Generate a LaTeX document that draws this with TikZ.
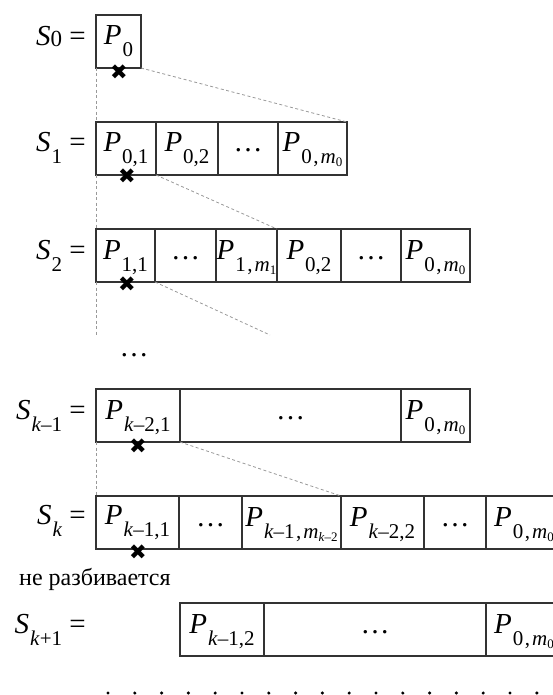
\documentclass[tikz,border=0pt]{standalone}
\usepackage{fontspec}
\setmainfont{Liberation Serif}
\newfontfamily\symfont{DejaVu Sans}

\newcommand{\subfont}{\fontsize{21}{21}\selectfont}
\newcommand{\Pblk}[1]{\textit{P}\kern1pt\raisebox{-12pt}{\subfont #1}}
\newcommand{\Slbl}[1]{\textit{S}\kern1pt\raisebox{-12pt}{\subfont #1}\ =}
\newcommand{\mz}[1]{\textit{m}\raisebox{-3pt}{\fontsize{13}{13}\selectfont #1}}
\newcommand{\cm}{\kern1.5pt,\kern2pt}

\begin{document}
\begin{tikzpicture}[x = 1pt, y = -1pt,
		blk/.style = {draw = black!80, line width = 1.1, inner sep = 0, outer sep = 0, anchor = north west,
			text height = 30pt, text depth = 23pt, font = \fontsize{29}{32}\selectfont},
		lbl/.style = {anchor = base east, inner sep = 0, font = \fontsize{29}{32}\selectfont},
		guide/.style = {draw = black!40, line width = 0.8, dash pattern = on 3pt off 2.5pt},
		cross/.style = {inner sep = 0, font = \symfont\fontsize{21}{21}\selectfont}]
		\useasboundingbox (0, 0) rectangle (553, 695);
		\clip (0, 0) rectangle (553, 695);
		% S_0
		\node[lbl] (l0) at (86, 46) {\textit{S}\raisebox{-1pt}{\fontsize{23}{23}\selectfont 0} =};
		\node[blk, minimum width = 45pt] (p0) at (96, 15) {\Pblk{0}};
		% S_1
		\node[lbl] (l1) at (86, 152) {\Slbl{1}};
		\node[blk, minimum width = 60pt] (s1a) at (96, 122) {\Pblk{0,1}};
		\node[blk, minimum width = 62pt] (s1b) at (156, 122) {\Pblk{0,2}};
		\node[blk, minimum width = 60pt] (s1c) at (218, 122) {…};
		\node[blk, minimum width = 69pt] (s1d) at (278, 122) {\Pblk{0\cm\mz{0}}};
		% S_2
		\node[lbl] (l2) at (86, 259) {\Slbl{2}};
		\node[blk, minimum width = 59pt] (s2a) at (96, 229) {\Pblk{1,1}};
		\node[blk, minimum width = 61pt] (s2b) at (155, 229) {…};
		\node[blk, minimum width = 61pt] (s2c) at (216, 229) {\Pblk{1\cm\mz{1}}};
		\node[blk, minimum width = 64pt] (s2d) at (277, 229) {\Pblk{0,2}};
		\node[blk, minimum width = 60pt] (s2e) at (341, 229) {…};
		\node[blk, minimum width = 69pt] (s2f) at (401, 229) {\Pblk{0\cm\mz{0}}};
		\node[anchor = base, font = \fontsize{29}{32}\selectfont] (gap) at (134, 356) {…};
		% S_{k-1}
		\node[lbl] (lk1) at (86, 419) {\Slbl{\textit{k}–1}};
		\node[blk, minimum width = 84pt] (sk1a) at (96, 389) {\Pblk{\textit{k}–2,1}};
		\node[blk, minimum width = 221pt] (sk1b) at (180, 389) {…};
		\node[blk, minimum width = 69pt] (sk1c) at (401, 389) {\Pblk{0\cm\mz{0}}};
		% S_k
		\node[lbl] (lk) at (86, 524) {\Slbl{\textit{k}}};
		\node[blk, minimum width = 83pt, text height = 28pt, text depth = 25pt] (ska) at (96, 496) {\Pblk{\textit{k}–1,1}};
		\node[blk, minimum width = 63pt] (skb) at (179, 496) {…};
		\node[blk, minimum width = 99pt] (skc) at (242, 496) {\Pblk{\textit{k}–1\cm\mz{\textit{k}–2}}};
		\node[blk, minimum width = 83pt] (skd) at (341, 496) {\Pblk{\textit{k}–2,2}};
		\node[blk, minimum width = 62pt] (ske) at (424, 496) {…};
		\node[blk, minimum width = 76pt] (skf) at (486, 496) {\Pblk{0\cm\mz{0}}};
		\node[anchor = base west, inner sep = 0, font = \fontsize{24}{28}\selectfont] (note) at (19, 585) {не разбивается};
		% S_{k+1}
		\node[lbl] (lk2) at (86, 633) {\Slbl{\textit{k}+1}};
		\node[blk, minimum width = 84pt] (sk2a) at (180, 603) {\Pblk{\textit{k}–1,2}};
		\node[blk, minimum width = 222pt] (sk2b) at (264, 603) {…};
		\node[blk, minimum width = 76pt] (sk2c) at (486, 603) {\Pblk{0\cm\mz{0}}};
		% Guides
		\coordinate (g1) at (96, 335);
		\coordinate (g2) at (270, 335);
		\draw[guide] (p0.south west) -- (s1a.north west);
		\draw[guide] (s1a.south west) -- (s2a.north west);
		\draw[guide] (s2a.south west) -- (g1);
		\draw[guide] (sk1a.south west) -- (ska.north west);
		\draw[guide] (p0.south east) -- (s1d.north east);
		\draw[guide] (s1a.south east) -- (s2d.north west);
		\draw[guide] (s2a.south east) -- (g2);
		\draw[guide] (sk1a.south east) -- (skd.north west);
		% Crosses
		\node[cross] (x0) at (119, 72) {✖};
		\node[cross] (x1) at (127, 176) {✖};
		\node[cross] (x2) at (127, 284) {✖};
		\node[cross] (xk1) at (138, 446) {✖};
		\node[cross] (xk) at (138, 552) {✖};
		% Dots
		\coordinate (d0) at (108, 693);
		\coordinate (d1) at (560, 693);
		\draw[line width = 3.4, line cap = round, dash pattern = on 0pt off 26.8pt] (d0) -- (d1);
	\end{tikzpicture}
\end{document}
